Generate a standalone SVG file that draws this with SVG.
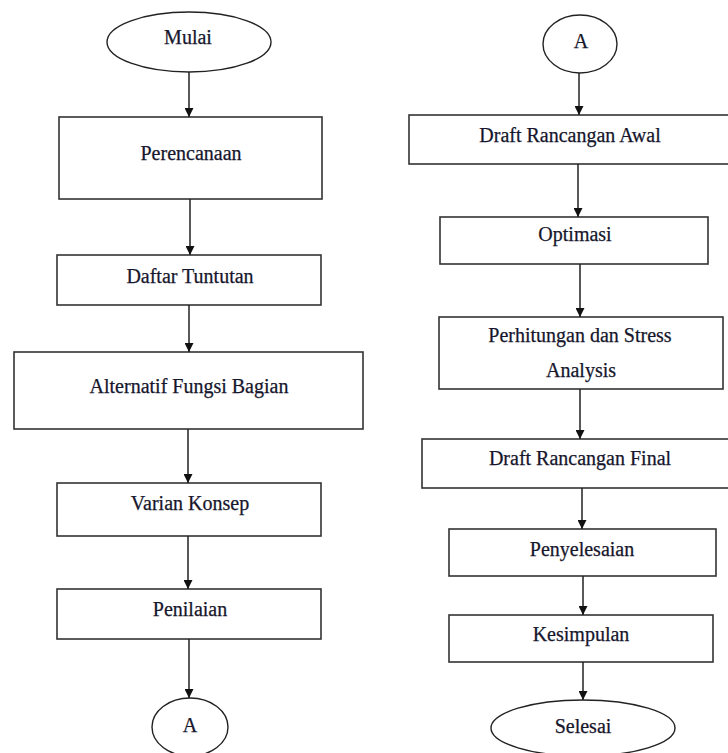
<svg xmlns="http://www.w3.org/2000/svg" width="728" height="753" viewBox="0 0 728 753">
  <defs>
    <marker id="arrow" viewBox="0 0 10 10" refX="10" refY="5" markerWidth="9" markerHeight="9" markerUnits="userSpaceOnUse" orient="auto">
      <path d="M0,0 L10,5 L0,10 z" fill="#111"/>
    </marker>
    <style>
      .box { fill: #fff; stroke: #333; stroke-width: 1.6; }
      .term { fill: #fff; stroke: #222; stroke-width: 1.4; }
      .lbl { font-family: "Liberation Serif", "Times New Roman", "DejaVu Serif", serif; font-size: 20px; fill: #16162c; stroke: #16162c; stroke-width: 0.25; text-anchor: middle; }
      .edge { stroke: #222; stroke-width: 1.5; fill: none; marker-end: url(#arrow); }
    </style>
  </defs>
  <rect width="728" height="753" fill="#fff"/>

  <!-- left column -->
  <g id="mulai">
    <ellipse class="term" cx="189" cy="42" rx="82" ry="30"/>
    <text class="lbl" x="188" y="44">Mulai</text>
  </g>
  <g id="perencanaan">
    <rect class="box" x="59" y="117" width="263" height="82"/>
    <text class="lbl" x="191" y="160">Perencanaan</text>
  </g>
  <g id="daftar-tuntutan">
    <rect class="box" x="57" y="255" width="264" height="50"/>
    <text class="lbl" x="190" y="283">Daftar Tuntutan</text>
  </g>
  <g id="alternatif">
    <rect class="box" x="14" y="352" width="349" height="77"/>
    <text class="lbl" x="189" y="393">Alternatif Fungsi Bagian</text>
  </g>
  <g id="varian-konsep">
    <rect class="box" x="57" y="483" width="264" height="53"/>
    <text class="lbl" x="190" y="510">Varian Konsep</text>
  </g>
  <g id="penilaian">
    <rect class="box" x="57" y="589" width="264" height="50"/>
    <text class="lbl" x="190" y="616">Penilaian</text>
  </g>
  <g id="konektor-a-keluar">
    <ellipse class="term" cx="190" cy="727" rx="38" ry="29"/>
    <text class="lbl" x="190" y="732">A</text>
  </g>

  <!-- right column -->
  <g id="konektor-a-masuk">
    <ellipse class="term" cx="580" cy="44" rx="37" ry="29"/>
    <text class="lbl" x="581" y="48">A</text>
  </g>
  <g id="draft-awal">
    <rect class="box" x="409" y="115" width="330" height="49"/>
    <text class="lbl" x="570" y="142">Draft Rancangan Awal</text>
  </g>
  <g id="optimasi">
    <rect class="box" x="440" y="217" width="268" height="47"/>
    <text class="lbl" x="575" y="241">Optimasi</text>
  </g>
  <g id="perhitungan">
    <rect class="box" x="439" y="317" width="284" height="72"/>
    <text class="lbl" x="580" y="342">Perhitungan dan Stress</text>
    <text class="lbl" x="581" y="377">Analysis</text>
  </g>
  <g id="draft-final">
    <rect class="box" x="422" y="439" width="320" height="49"/>
    <text class="lbl" x="580" y="465">Draft Rancangan Final</text>
  </g>
  <g id="penyelesaian">
    <rect class="box" x="449" y="529" width="267" height="47"/>
    <text class="lbl" x="582" y="556">Penyelesaian</text>
  </g>
  <g id="kesimpulan">
    <rect class="box" x="449" y="615" width="264" height="47"/>
    <text class="lbl" x="581" y="641">Kesimpulan</text>
  </g>
  <g id="selesai">
    <ellipse class="term" cx="583" cy="728" rx="92" ry="28"/>
    <text class="lbl" x="583" y="733">Selesai</text>
  </g>

  <!-- connectors -->
  <g id="connectors">
    <line class="edge" x1="189" y1="72" x2="189" y2="117"/>
    <line class="edge" x1="190" y1="199" x2="190" y2="255"/>
    <line class="edge" x1="189" y1="305" x2="189" y2="352"/>
    <line class="edge" x1="188" y1="429" x2="188" y2="483"/>
    <line class="edge" x1="188" y1="536" x2="188" y2="589"/>
    <line class="edge" x1="189" y1="639" x2="189" y2="698"/>

    <line class="edge" x1="579" y1="73" x2="579" y2="115"/>
    <line class="edge" x1="578" y1="164" x2="578" y2="217"/>
    <line class="edge" x1="580" y1="264" x2="580" y2="317"/>
    <line class="edge" x1="580" y1="389" x2="580" y2="439"/>
    <line class="edge" x1="582" y1="488" x2="582" y2="529"/>
    <line class="edge" x1="583" y1="576" x2="583" y2="615"/>
    <line class="edge" x1="583" y1="662" x2="583" y2="700"/>
  </g>
</svg>
